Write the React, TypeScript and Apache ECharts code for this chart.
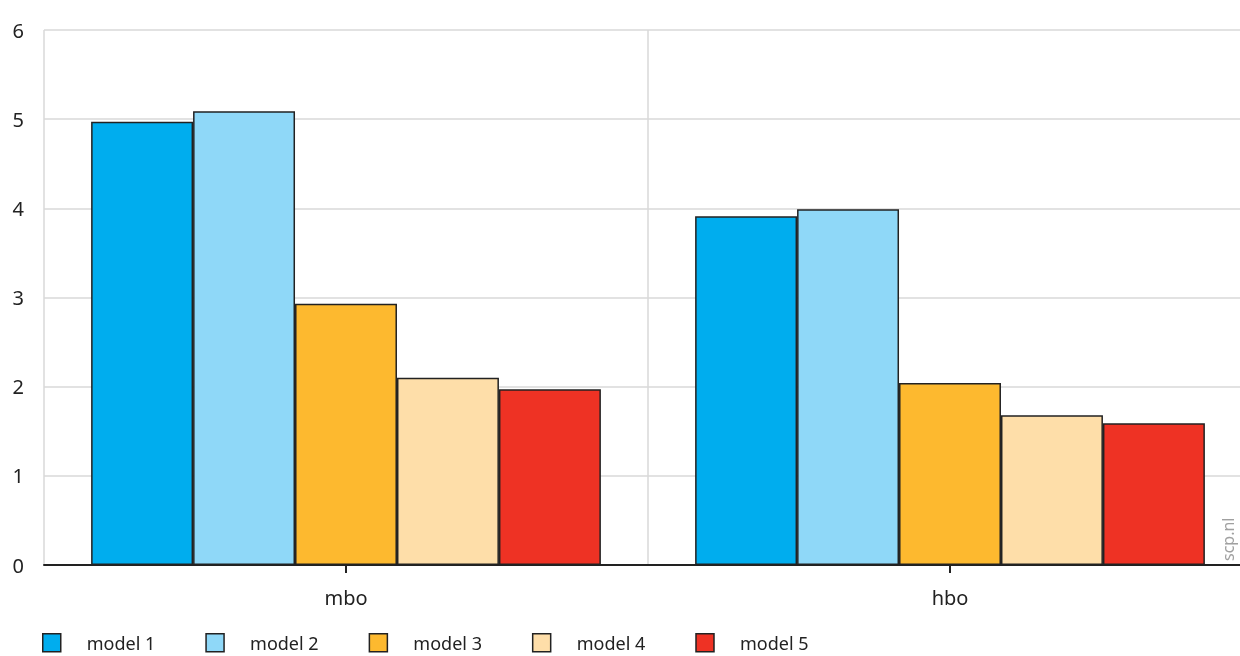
import React, { useEffect, useRef } from "react";
import * as echarts from "echarts";

const categories = ["mbo", "hbo"];
const seriesNames = ["model 1", "model 2", "model 3", "model 4", "model 5"];
const model1 = [4.97, 3.91];
const model2 = [5.09, 3.99];
const model3 = [2.93, 2.04];
const model4 = [2.1, 1.68];
const model5 = [1.97, 1.59];
const colors = ["#00adee", "#8fd8f8", "#fdb92f", "#fedea9", "#ee3224"];
const yTicks = [0, 1, 2, 3, 4, 5, 6];

export default function App() {
  const ref = useRef<HTMLDivElement>(null);
  useEffect(() => {
    if (!ref.current) return;
    const chart = echarts.init(ref.current, null, { renderer: "svg" });
    const values = [model1, model2, model3, model4, model5];
    const font = "'Noto Sans', sans-serif";
    chart.setOption({
      animation: false,
      textStyle: { fontFamily: font },
      grid: { left: 44, right: 0, top: 30, bottom: 91, containLabel: false },
      legend: {
        left: 42,
        top: 633,
        padding: 0,
        itemWidth: 18,
        itemHeight: 18,
        itemGap: 50,
        icon: "rect",
        data: seriesNames,
        itemStyle: { borderColor: "#222", borderWidth: 1.5 },
        textStyle: {
          fontSize: 18,
          lineHeight: 18,
          color: "#222",
          fontFamily: font,
          padding: [0, 0, 0, 21],
        },
      },
      xAxis: {
        type: "category",
        data: categories,
        axisLine: { lineStyle: { color: "#222", width: 2 } },
        axisTick: { show: true, alignWithLabel: true, length: 8, lineStyle: { color: "#222", width: 2 } },
        axisLabel: { fontSize: 20, color: "#222", margin: 22, fontFamily: font },
        splitLine: { show: true, lineStyle: { color: "#d9d9d9", width: 1.5 } },
      },
      yAxis: {
        type: "value",
        min: yTicks[0],
        max: yTicks[yTicks.length - 1],
        interval: 1,
        axisLine: { show: false },
        axisTick: { show: false },
        axisLabel: { fontSize: 20, color: "#222", margin: 20, fontFamily: font },
        splitLine: { show: true, lineStyle: { color: "#d9d9d9", width: 1.5 } },
      },
      series: seriesNames.map((name, i) => ({
        name,
        type: "bar",
        data: values[i],
        barGap: "0%",
        barCategoryGap: "15.6%",
        itemStyle: { color: colors[i], borderColor: "#222", borderWidth: 1.5 },
      })),
      color: colors,
      graphic: [
        {
          type: "text",
          x: 1236,
          y: 561,
          rotation: Math.PI / 2,
          style: {
            text: "scp.nl",
            fontSize: 16,
            fill: "#a0a0a0",
            fontFamily: font,
            textAlign: "left",
            textVerticalAlign: "bottom",
          },
        },
      ],
    });
    return () => chart.dispose();
  }, []);
  return (
    <div style={{ position: "fixed", left: 0, top: 0, width: 1240, height: 656, overflow: "hidden" }}>
      <div ref={ref} style={{ width: 1252, height: 656 }} />
    </div>
  );
}
